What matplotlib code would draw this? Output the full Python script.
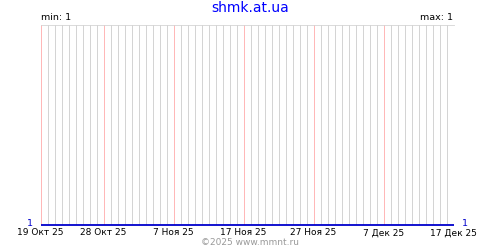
import matplotlib
matplotlib.use("Agg")
import matplotlib.pyplot as plt
import matplotlib.dates as mdates
import datetime as dt

# ---- data ----
start_date = "2025-10-19"
end_date = "2025-12-17"
values = [1, 1, 1, 1, 1, 1, 1, 1, 1, 1,
          1, 1, 1, 1, 1, 1, 1, 1, 1, 1,
          1, 1, 1, 1, 1, 1, 1, 1, 1, 1,
          1, 1, 1, 1, 1, 1, 1, 1, 1, 1,
          1, 1, 1, 1, 1, 1, 1, 1, 1, 1,
          1, 1, 1, 1, 1, 1, 1, 1, 1, 1]
tick_dates = ["2025-10-19", "2025-10-28", "2025-11-07", "2025-11-17",
              "2025-11-27", "2025-12-07", "2025-12-17"]
tick_labels = ["19 Окт 25", "28 Окт 25", "7 Ноя 25", "17 Ноя 25",
               "27 Ноя 25", "7 Дек 25", "17 Дек 25"]
title = "shmk.at.ua"
min_label = "min: 1"
max_label = "max: 1"
left_value_label = "1"
right_value_label = "1"
footer = "©2025 www.mmnt.ru"

d0 = dt.date.fromisoformat(start_date)
d1 = dt.date.fromisoformat(end_date)
ndays = (d1 - d0).days + 1
dates = [d0 + dt.timedelta(days=i) for i in range(ndays)]
ticks = [dt.date.fromisoformat(s) for s in tick_dates]

plt.rcParams['font.family'] = ['DejaVu Sans']
fig = plt.figure(figsize=(5, 2.5), dpi=100)
ax = fig.add_axes([40.5 / 500, 25 / 250, 413 / 500, 200 / 250])

xmin = mdates.date2num(d0)
xmax = mdates.date2num(d1)
ax.set_xlim(xmin, xmax)
ax.set_ylim(1, 2)

# daily grid lines
for d in dates:
    ax.axvline(mdates.date2num(d), color="#d4d4d4", lw=0.5, zorder=1,
               antialiased=False)
for d in ticks:
    ax.axvline(mdates.date2num(d), color="#ffb8b8", lw=0.5, zorder=2,
               antialiased=False)

ax.plot(mdates.date2num(dates), values[:ndays], color="#0000cc", lw=1.3,
        zorder=3, clip_on=False, solid_capstyle="butt")

ax.set_xticks([mdates.date2num(t) for t in ticks])
ax.set_xticklabels(tick_labels, fontsize=6.5)
ax.tick_params(axis="x", length=0, pad=2.5)
ax.set_yticks([])
for s in ["left", "right", "bottom"]:
    ax.spines[s].set_visible(False)
ax.spines["top"].set_color("#d4d4d4")
ax.spines["top"].set_linewidth(0.6)

fig.text(0.5, 1 - 7.5 / 250, title, color="#0000ff", fontsize=10,
         ha="center", va="center")
fig.text(41 / 500, 1 - 18 / 250, min_label, fontsize=6.8, ha="left",
         va="center", color="black")
fig.text(453 / 500, 1 - 18 / 250, max_label, fontsize=6.8, ha="right",
         va="center", color="black")
fig.text(33 / 500, 1 - 224 / 250, left_value_label, fontsize=6.8,
         ha="right", va="center", color="#0000cc")
fig.text(462 / 500, 1 - 224 / 250, right_value_label, fontsize=6.8,
         ha="left", va="center", color="#0000cc")
fig.text(0.5, 1 - 242.5 / 250, footer, fontsize=6.5, ha="center",
         va="center", color="#999999")

fig.savefig("out.png", dpi=100)
